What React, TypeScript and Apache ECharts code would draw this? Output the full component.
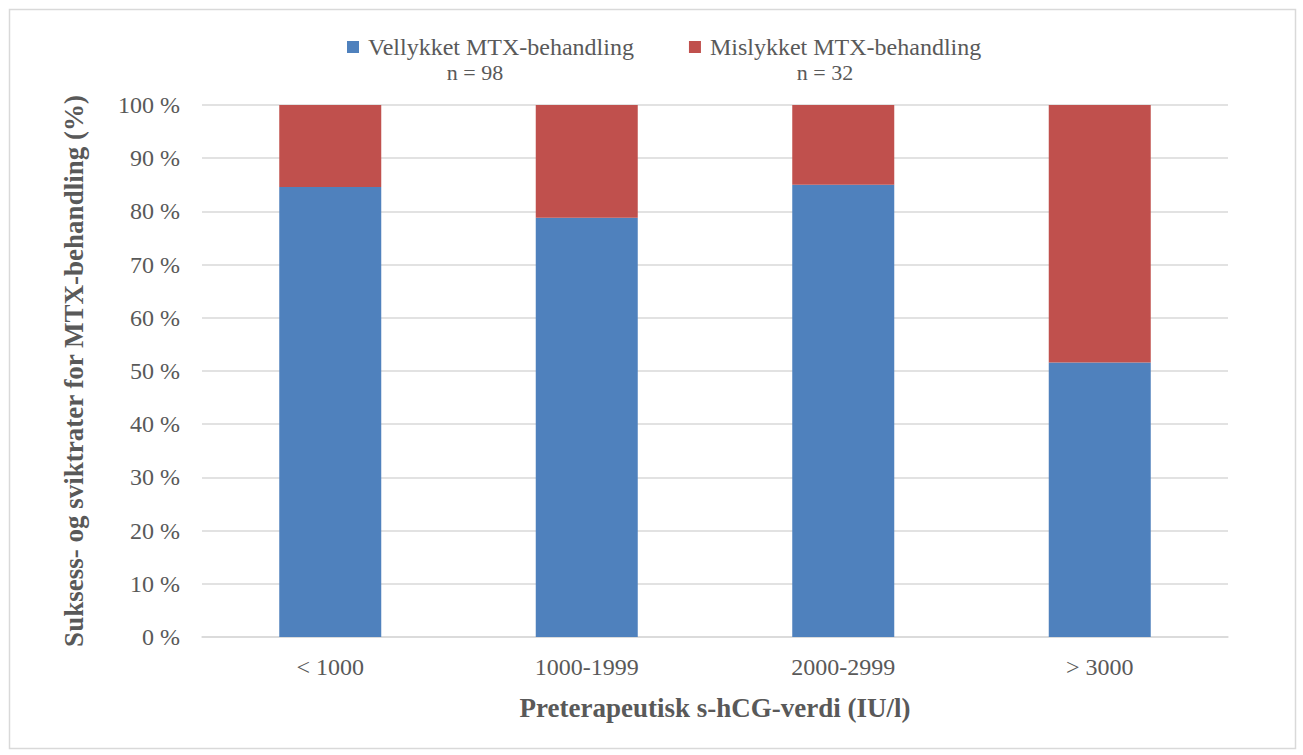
import React, { useEffect, useRef } from "react";
import * as echarts from "echarts";

const categories = ["< 1000", "1000-1999", "2000-2999", "> 3000"];
const successRates = [84.6, 78.8, 85.0, 51.6];
const failureRates = [15.4, 21.2, 15.0, 48.4];
const seriesNames = ["Vellykket MTX-behandling", "Mislykket MTX-behandling"];
const seriesCounts = ["n = 98", "n = 32"];
const yTitle = "Suksess- og sviktrater for MTX-behandling (%)";
const xTitle = "Preterapeutisk s-hCG-verdi (IU/l)";

const FONT = "'Liberation Serif', 'DejaVu Serif', serif";
const GREY = "#595959";

export default function App() {
  const ref = useRef<HTMLDivElement>(null);
  useEffect(() => {
    document.body.style.margin = "0";
    const chart = echarts.init(ref.current!, null, { renderer: "svg" });
    chart.setOption({
      animation: false,
      backgroundColor: "#ffffff",
      textStyle: { fontFamily: FONT },
      legend: {
        top: 35,
        left: 347,
        padding: 0,
        itemWidth: 12,
        itemHeight: 12,
        itemGap: 55,
        icon: "rect",
        textStyle: {
          fontFamily: FONT,
          fontSize: 24,
          lineHeight: 24,
          color: GREY,
          padding: [0, 0, 0, 4],
        },
        data: seriesNames,
      },
      grid: { left: 202, right: 75, top: 105, bottom: 118 },
      xAxis: {
        type: "category",
        data: categories,
        axisLine: { lineStyle: { color: "#d9d9d9", width: 1.5 } },
        axisTick: { show: false },
        axisLabel: { fontFamily: FONT, fontSize: 24, color: GREY, margin: 18 },
        name: xTitle,
        nameLocation: "middle",
        nameGap: 57,
        nameTextStyle: { fontFamily: FONT, fontSize: 27, fontWeight: "bold", color: GREY },
      },
      yAxis: {
        type: "value",
        min: 0,
        max: 100,
        interval: 10,
        axisLine: { show: false },
        axisTick: { show: false },
        splitLine: { lineStyle: { color: "#d9d9d9", width: 1.5 } },
        axisLabel: {
          fontFamily: FONT,
          fontSize: 24,
          color: GREY,
          margin: 22,
          formatter: (v: number) => `${v} %`,
        },
        name: yTitle,
        nameLocation: "middle",
        nameGap: 115,
        nameTextStyle: { fontFamily: FONT, fontSize: 27, fontWeight: "bold", color: GREY },
      },
      series: [
        {
          name: seriesNames[0],
          type: "bar",
          stack: "total",
          barWidth: 102,
          data: successRates,
          itemStyle: { color: "#4f81bd" },
        },
        {
          name: seriesNames[1],
          type: "bar",
          stack: "total",
          barWidth: 102,
          data: failureRates,
          itemStyle: { color: "#c0504d" },
        },
      ],
      graphic: [
        {
          type: "rect",
          silent: true,
          shape: { x: 9.5, y: 9.5, width: 1286, height: 739 },
          style: { fill: "none", stroke: "#d9d9d9", lineWidth: 1.5 },
        },
        {
          type: "text",
          x: 475,
          y: 72,
          style: {
            text: seriesCounts[0],
            fontFamily: FONT,
            fontSize: 22,
            lineHeight: 22,
            fill: GREY,
            textAlign: "center",
            textVerticalAlign: "middle",
          },
        },
        {
          type: "text",
          x: 825,
          y: 72,
          style: {
            text: seriesCounts[1],
            fontFamily: FONT,
            fontSize: 22,
            lineHeight: 22,
            fill: GREY,
            textAlign: "center",
            textVerticalAlign: "middle",
          },
        },
      ],
    });
    return () => chart.dispose();
  }, []);
  return <div ref={ref} style={{ width: 1303, height: 755, position: "absolute", left: 0, top: 0 }} />;
}
